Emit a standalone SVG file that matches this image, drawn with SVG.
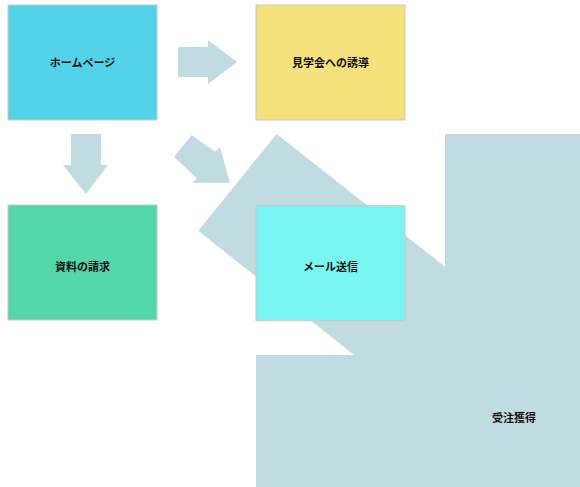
<svg xmlns="http://www.w3.org/2000/svg" width="580" height="487" viewBox="0 0 580 487">
<style>
.box{stroke:#c8c8c8;stroke-width:1}
.lbl{font-family:"Liberation Sans","Noto Sans CJK JP",sans-serif;font-size:11px;font-weight:bold;fill:#111;text-anchor:middle;dominant-baseline:central}
.arr{fill:#c1dce0}
</style>
<rect width="580" height="487" fill="#fff"/>
<g id="connectors">
<polygon class="arr" points="178,47 208,47 208,40 237,62 208,84 208,77 178,77"/>
<polygon class="arr" points="71,134 101,134 101,165 108,165 86,194 63,165 71,165"/>
<polygon class="arr" points="191.7,135 215,151.7 220,147.3 230,182.7 192.7,182.7 196.7,178.3 174,156.7"/>
</g>
<g id="n-juchu">
<polygon class="arr" points="276.7,134 445,266.7 445,134 580,134 580,487 256,487 256,355 354,355 198.3,230.7"/>
<text class="lbl" x="514" y="418">受注獲得</text>
</g>
<g id="n-homepage">
<rect class="box" x="8" y="5" width="149" height="115" fill="#52d3e9"/>
<text class="lbl" x="82.5" y="62.5">ホームページ</text>
</g>
<g id="n-kengaku">
<rect class="box" x="256" y="5" width="149" height="115" fill="#f5e27a"/>
<text class="lbl" x="330.5" y="62.5">見学会への誘導</text>
</g>
<g id="n-shiryo">
<rect class="box" x="8" y="205" width="149" height="115" fill="#52d6aa"/>
<text class="lbl" x="82.5" y="267">資料の請求</text>
</g>
<g id="n-mail">
<rect class="box" x="256" y="205.7" width="149" height="115" fill="#78f5f2"/>
<text class="lbl" x="330.5" y="267">メール送信</text>
</g>
</svg>
